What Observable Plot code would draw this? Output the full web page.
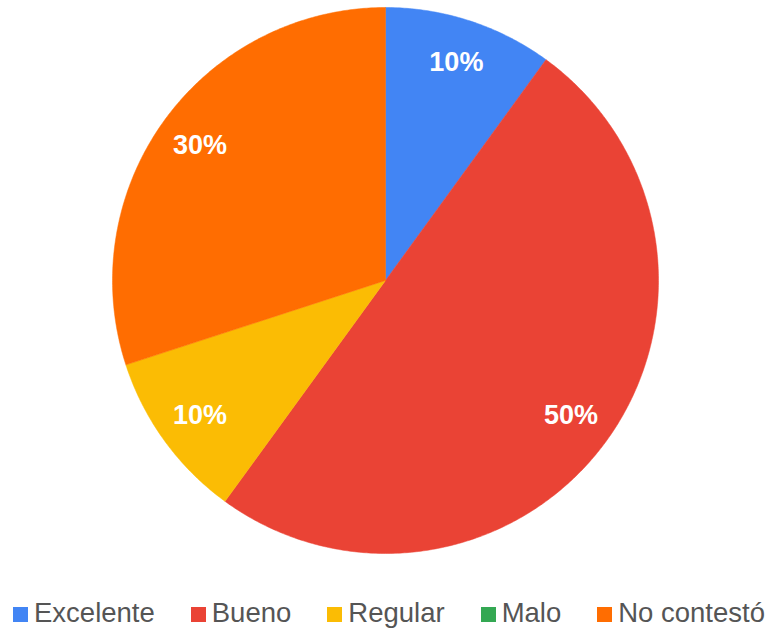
<!DOCTYPE html>
<html>
<head>
<meta charset="utf-8">
<script src="https://cdn.jsdelivr.net/npm/d3@7"></script>
<script src="https://cdn.jsdelivr.net/npm/@observablehq/plot@0.6"></script>
<style>
  html, body { margin: 0; padding: 0; background: #fff; }
  #chart svg { display: block; }
  #legend { display: flex; justify-content: center; align-items: center; gap: 36px;
    font-family: Arial, "Liberation Sans", sans-serif; font-size: 27.5px; color: #555;
    margin-top: 28px; height: 30px; padding-left: 8px; }
  .item { display: flex; align-items: center; }
  .sw { width: 15px; height: 15px; margin-right: 6px; margin-top: 3px; }
</style>
</head>
<body>
<div id="chart"></div>
<div id="legend"></div>
<script>
const categories = ["Excelente", "Bueno", "Regular", "Malo", "No contestó"];
const values = [10, 50, 10, 0, 30];
const colors = ["#4285F4", "#EA4335", "#FBBC04", "#34A853", "#FF6D01"];

const total = d3.sum(values);
const points = [];
const labels = [];
let start = 0;
categories.forEach((cat, i) => {
  const v = values[i];
  if (v <= 0) return;
  const a0 = start / total * 2 * Math.PI;
  const a1 = (start + v) / total * 2 * Math.PI;
  points.push({cat, x: 0, y: 0});
  const n = Math.max(2, Math.ceil((a1 - a0) / (Math.PI / 360)));
  for (let k = 0; k <= n; k++) {
    const a = a0 + (a1 - a0) * k / n;
    points.push({cat, x: Math.sin(a), y: Math.cos(a)});
  }
  points.push({cat, x: 0, y: 0});
  const am = (a0 + a1) / 2;
  labels.push({cat, x: 0.84 * Math.sin(am), y: 0.84 * Math.cos(am), text: Math.round(v / total * 100) + "%"});
  start += v;
});

const chart = Plot.plot({
  width: 770,
  height: 570,
  marginLeft: 112,
  marginRight: 112,
  marginTop: 7,
  marginBottom: 17,
  x: {domain: [-1, 1], axis: null},
  y: {domain: [-1, 1], axis: null},
  color: {domain: categories, range: colors},
  style: {fontFamily: "Arial, 'Liberation Sans', sans-serif"},
  marks: [
    Plot.line(points, {x: "x", y: "y", z: "cat", fill: "cat", stroke: "cat", strokeWidth: 0.5, curve: "linear"}),
    Plot.text(labels, {x: "x", y: "y", text: "text", fill: "white", fontSize: 27, fontWeight: "bold"})
  ]
});
document.getElementById("chart").appendChild(chart);

const legend = document.getElementById("legend");
categories.forEach((cat, i) => {
  const it = document.createElement("div");
  it.className = "item";
  const sw = document.createElement("span");
  sw.className = "sw";
  sw.style.background = colors[i];
  const t = document.createElement("span");
  t.textContent = cat;
  it.appendChild(sw);
  it.appendChild(t);
  legend.appendChild(it);
});
</script>
</body>
</html>
